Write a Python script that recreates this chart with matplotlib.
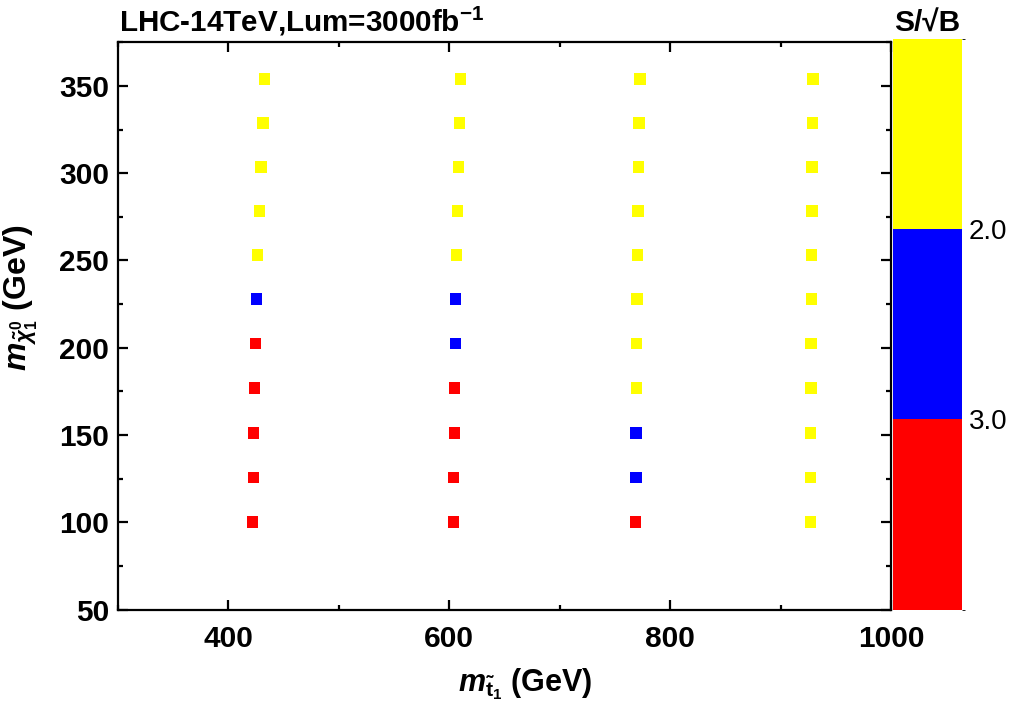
import matplotlib
matplotlib.use("Agg")
import matplotlib.pyplot as plt
from matplotlib.colors import ListedColormap, BoundaryNorm
from matplotlib.ticker import MultipleLocator

plt.rcParams["font.family"] = ["Liberation Sans", "DejaVu Sans"]
plt.rcParams["font.weight"] = "bold"
plt.rcParams["axes.labelweight"] = "bold"
plt.rcParams["mathtext.fontset"] = "custom"
plt.rcParams["mathtext.rm"] = "Liberation Sans:bold"
plt.rcParams["mathtext.bf"] = "Liberation Sans:bold"
plt.rcParams["mathtext.it"] = "Liberation Sans:bold:italic"

# neutralino masses (same for every stop column)
mchi = [100.2, 125.8, 151.1, 176.8, 202.3, 227.8, 253.0, 278.4, 303.6, 328.8, 354.0]

# stop masses, one list per column (points drift slightly with mchi)
mstop_a = [422.2, 422.9, 423.1, 424.0, 424.7, 425.6, 426.7, 428.3, 429.5, 431.3, 432.8]
mstop_b = [604.0, 604.0, 604.5, 604.9, 605.4, 605.8, 606.3, 607.2, 608.1, 609.0, 609.9]
mstop_c = [768.5, 768.9, 768.9, 769.4, 769.4, 769.8, 770.3, 770.7, 771.2, 771.6, 772.5]
mstop_d = [926.6, 926.6, 926.6, 927.1, 927.1, 927.5, 927.5, 928.0, 928.0, 928.4, 928.9]

# S/sqrt(B) class: 0 -> below 2.0, 1 -> 2.0 to 3.0, 2 -> above 3.0
sig_a = [2, 2, 2, 2, 2, 1, 0, 0, 0, 0, 0]
sig_b = [2, 2, 2, 2, 1, 1, 0, 0, 0, 0, 0]
sig_c = [2, 1, 1, 0, 0, 0, 0, 0, 0, 0, 0]
sig_d = [0, 0, 0, 0, 0, 0, 0, 0, 0, 0, 0]

level_colors = ["#ffff00", "#0000ff", "#ff0000"]
cbar_labels = ["2.0", "3.0"]

xs = mstop_a + mstop_b + mstop_c + mstop_d
ys = mchi * 4
cs = sig_a + sig_b + sig_c + sig_d

cmap = ListedColormap(level_colors)
norm = BoundaryNorm([-0.5, 0.5, 1.5, 2.5], cmap.N)

fig = plt.figure(figsize=(10.11, 7.24), dpi=100)
ax = fig.add_axes([0.1164, 0.1581, 0.7654, 0.7835])
cax = fig.add_axes([0.8833, 0.1581, 0.0683, 0.788])

sc = ax.scatter(xs, ys, c=cs, cmap=cmap, norm=norm, marker="s", s=68, linewidths=0)

ax.set_xlim(300, 1000)
ax.set_ylim(50, 375)
ax.xaxis.set_major_locator(MultipleLocator(200))
ax.xaxis.set_minor_locator(MultipleLocator(100))
ax.yaxis.set_major_locator(MultipleLocator(50))
ax.yaxis.set_minor_locator(MultipleLocator(25))
ax.tick_params(which="both", direction="in", top=True, right=True, width=1.6, labelsize=21.5)
ax.tick_params(which="major", length=7.5)
ax.tick_params(which="minor", length=3.8)
ax.tick_params(axis="x", which="major", pad=11)
ax.tick_params(axis="y", which="major", pad=6)
for sp in ax.spines.values():
    sp.set_linewidth(1.6)

ax.set_xlabel(r"$m_{\tilde{\mathrm{t}}_1}$ (GeV)", fontsize=22)
ax.xaxis.set_label_coords(0.527, -0.1)
ax.set_ylabel(r"$m_{\tilde{\chi}^0_1}$ (GeV)", fontsize=23)
ax.yaxis.set_label_coords(-0.1, 0.549)

cbar = fig.colorbar(sc, cax=cax, ticks=[0.5, 1.5])
cbar.outline.set_visible(False)
cax.invert_yaxis()
cbar.set_ticklabels(cbar_labels)
cax.tick_params(length=0, labelsize=20, pad=5)
for lbl in cax.get_yticklabels():
    lbl.set_fontweight("normal")

fig.text(0.1177, 0.9562, r"LHC-14TeV,Lum=3000fb$^{-1}$", fontsize=21.3, va="baseline", ha="left")
fig.text(0.917, 0.9562, "S/\u221aB", fontsize=21.5, va="baseline", ha="center")

fig.savefig("out.png", dpi=100)
